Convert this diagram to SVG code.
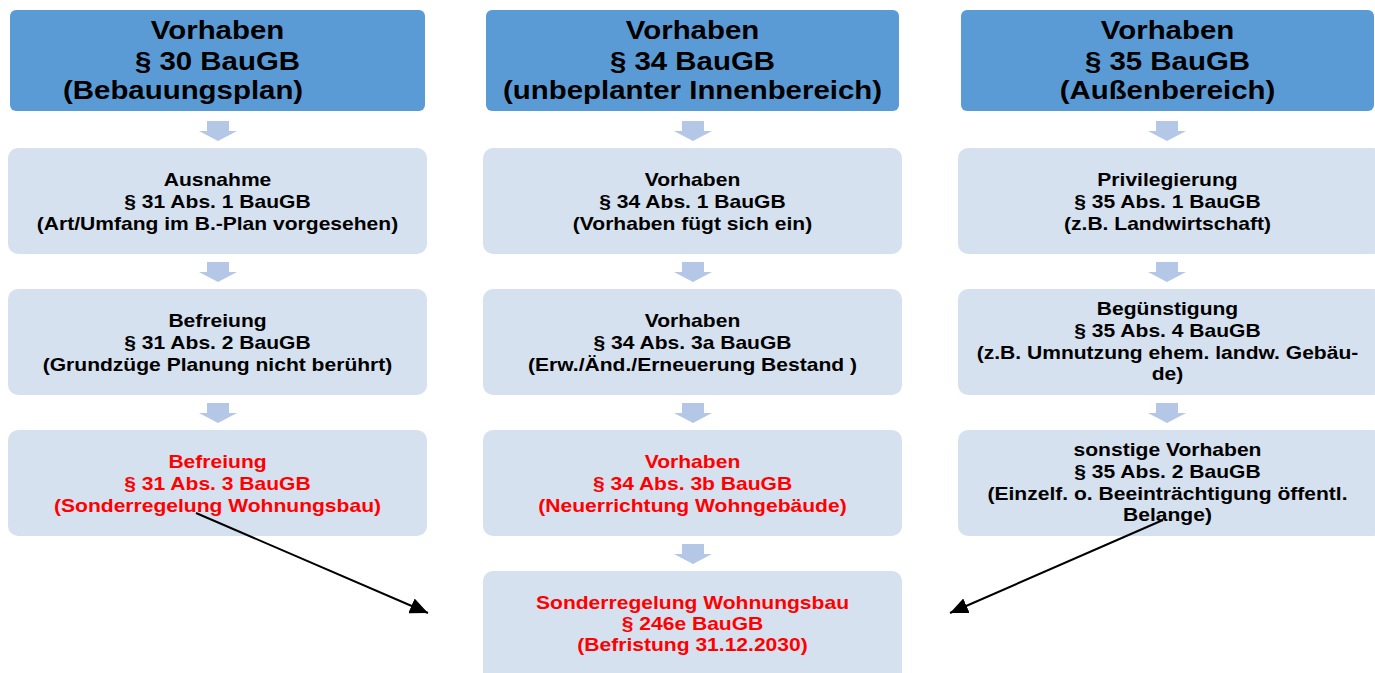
<svg xmlns="http://www.w3.org/2000/svg" width="1375" height="673" viewBox="0 0 1375 673">
<style>
.hdr{fill:#5b9bd5}
.box{fill:#d6e1ef}
.step{fill:#b4c7e7}
.ht{font-family:"Liberation Sans",Arial,sans-serif;font-weight:bold;font-size:26.5px;fill:#000;text-anchor:middle}
.bt{font-family:"Liberation Sans",Arial,sans-serif;font-weight:bold;font-size:18px;fill:#000;text-anchor:middle}
.red{fill:#ff0000}
.con{stroke:#000;stroke-width:2;fill:none}
</style>
<defs>
<marker id="ah" markerUnits="userSpaceOnUse" markerWidth="20" markerHeight="16" viewBox="0 0 20 16" refX="18" refY="8" orient="auto">
<path d="M0,0 L18,8 L0,16 Z" fill="#000"/>
</marker>
<path id="dn" d="M-11,0 H11 V10 H19 L0,20 L-19,10 H-11 Z"/>
</defs>
<rect width="1375" height="673" fill="#fff"/>

<g id="steps" class="step">
<use href="#dn" x="218" y="121"/><use href="#dn" x="218" y="262"/><use href="#dn" x="218" y="403"/>
<use href="#dn" x="693" y="121"/><use href="#dn" x="693" y="262"/><use href="#dn" x="693" y="403"/><use href="#dn" x="693" y="544"/>
<use href="#dn" x="1167" y="121"/><use href="#dn" x="1167" y="262"/><use href="#dn" x="1167" y="403"/>
</g>

<g id="h30">
<rect class="hdr" x="10" y="10" width="415" height="101" rx="6"/>
<g transform="translate(217.5,0) scale(1.11,1)"><text class="ht"><tspan x="0" y="39.5">Vorhaben</tspan><tspan x="0" y="70">§ 30 BauGB</tspan><tspan x="-31" y="99.5">(Bebauungsplan)</tspan></text></g>
</g>
<g id="h34">
<rect class="hdr" x="486" y="10" width="413" height="101" rx="6"/>
<g transform="translate(692.5,0) scale(1.11,1)"><text class="ht"><tspan x="0" y="39.5">Vorhaben</tspan><tspan x="0" y="70">§ 34 BauGB</tspan><tspan x="0" y="99.5">(unbeplanter Innenbereich)</tspan></text></g>
</g>
<g id="h35">
<rect class="hdr" x="961" y="10" width="413" height="101" rx="6"/>
<g transform="translate(1167.5,0) scale(1.11,1)"><text class="ht"><tspan x="0" y="39.5">Vorhaben</tspan><tspan x="0" y="70">§ 35 BauGB</tspan><tspan x="0" y="99.5">(Außenbereich)</tspan></text></g>
</g>

<g id="n31-1">
<rect class="box" x="8" y="148" width="419" height="106" rx="10"/>
<g transform="translate(217.5,0) scale(1.17,1)"><text class="bt"><tspan x="0" y="186">Ausnahme</tspan><tspan x="0" y="208">§ 31 Abs. 1 BauGB</tspan><tspan x="0" y="230">(Art/Umfang im B.-Plan vorgesehen)</tspan></text></g>
</g>
<g id="n31-2">
<rect class="box" x="8" y="289" width="419" height="106" rx="10"/>
<g transform="translate(217.5,0) scale(1.17,1)"><text class="bt"><tspan x="0" y="327">Befreiung</tspan><tspan x="0" y="349">§ 31 Abs. 2 BauGB</tspan><tspan x="0" y="371">(Grundzüge Planung nicht berührt)</tspan></text></g>
</g>
<g id="n31-3">
<rect class="box" x="8" y="430" width="419" height="106" rx="10"/>
<g transform="translate(217.5,0) scale(1.17,1)"><text class="bt red"><tspan x="0" y="468">Befreiung</tspan><tspan x="0" y="490">§ 31 Abs. 3 BauGB</tspan><tspan x="0" y="512">(Sonderregelung Wohnungsbau)</tspan></text></g>
</g>

<g id="n34-1">
<rect class="box" x="483" y="148" width="419" height="106" rx="10"/>
<g transform="translate(692.5,0) scale(1.17,1)"><text class="bt"><tspan x="0" y="186">Vorhaben</tspan><tspan x="0" y="208">§ 34 Abs. 1 BauGB</tspan><tspan x="0" y="230">(Vorhaben fügt sich ein)</tspan></text></g>
</g>
<g id="n34-3a">
<rect class="box" x="483" y="289" width="419" height="106" rx="10"/>
<g transform="translate(692.5,0) scale(1.17,1)"><text class="bt"><tspan x="0" y="327">Vorhaben</tspan><tspan x="0" y="349">§ 34 Abs. 3a BauGB</tspan><tspan x="0" y="371">(Erw./Änd./Erneuerung Bestand )</tspan></text></g>
</g>
<g id="n34-3b">
<rect class="box" x="483" y="430" width="419" height="106" rx="10"/>
<g transform="translate(692.5,0) scale(1.17,1)"><text class="bt red"><tspan x="0" y="468">Vorhaben</tspan><tspan x="0" y="490">§ 34 Abs. 3b BauGB</tspan><tspan x="0" y="512">(Neuerrichtung Wohngebäude)</tspan></text></g>
</g>
<g id="n246e">
<rect class="box" x="483" y="571" width="419" height="120" rx="10"/>
<g transform="translate(692.5,0) scale(1.17,1)"><text class="bt red"><tspan x="0" y="609">Sonderregelung Wohnungsbau</tspan><tspan x="0" y="630">§ 246e BauGB</tspan><tspan x="0" y="651">(Befristung 31.12.2030)</tspan></text></g>
</g>

<g id="n35-1">
<rect class="box" x="958" y="148" width="425" height="106" rx="10"/>
<g transform="translate(1167.5,0) scale(1.17,1)"><text class="bt"><tspan x="0" y="186">Privilegierung</tspan><tspan x="0" y="208">§ 35 Abs. 1 BauGB</tspan><tspan x="0" y="230">(z.B. Landwirtschaft)</tspan></text></g>
</g>
<g id="n35-4">
<rect class="box" x="958" y="289" width="425" height="106" rx="10"/>
<g transform="translate(1167.5,0) scale(1.17,1)"><text class="bt"><tspan x="0" y="315">Begünstigung</tspan><tspan x="0" y="337">§ 35 Abs. 4 BauGB</tspan><tspan x="0" y="359">(z.B. Umnutzung ehem. landw. Gebäu-</tspan><tspan x="0" y="380">de)</tspan></text></g>
</g>
<g id="n35-2">
<rect class="box" x="958" y="430" width="425" height="106" rx="10"/>
<g transform="translate(1167.5,0) scale(1.17,1)"><text class="bt"><tspan x="0" y="456">sonstige Vorhaben</tspan><tspan x="0" y="478">§ 35 Abs. 2 BauGB</tspan><tspan x="0" y="500">(Einzelf. o. Beeinträchtigung öffentl.</tspan><tspan x="0" y="521">Belange)</tspan></text></g>
</g>

<g id="connectors">
<line class="con" x1="196" y1="513" x2="428" y2="613" marker-end="url(#ah)"/>
<line class="con" x1="1163" y1="520" x2="950" y2="613" marker-end="url(#ah)"/>
</g>
</svg>
